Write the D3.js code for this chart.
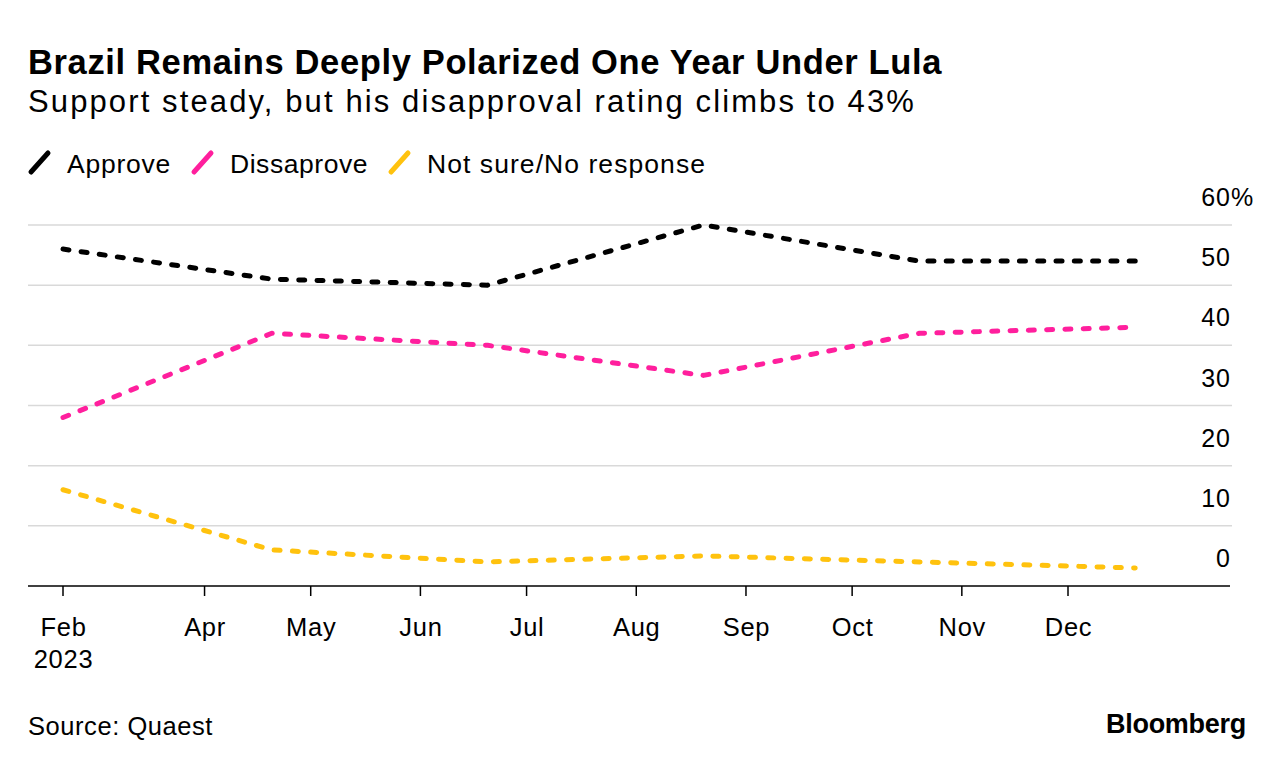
<!DOCTYPE html>
<html>
<head>
<meta charset="utf-8">
<script src="https://cdn.jsdelivr.net/npm/d3@7"></script>
<style>
  html, body { margin: 0; padding: 0; background: #fff; }
  svg { display: block; }
  text { font-family: "Liberation Sans", Arial, sans-serif; fill: #000; }
</style>
</head>
<body>
<svg id="chart" width="1285" height="768"></svg>
<script>
// ---- Data ----
const dates = ["2023-02-20", "2023-04-20", "2023-06-20", "2023-08-20", "2023-10-20", "2023-12-20"];
const approve = [56, 51, 50, 60, 54, 54];
const disapprove = [28, 42, 40, 35, 42, 43];
const notSure = [16, 6, 4, 5, 4, 3];
const seriesNames = ["Approve", "Dissaprove", "Not sure/No response"];
const seriesColors = ["#000000", "#ff1f9d", "#ffc20e"];
const xTickDates = ["2023-02-20", "2023-04-01", "2023-05-01", "2023-06-01", "2023-07-01", "2023-08-01", "2023-09-01", "2023-10-01", "2023-11-01", "2023-12-01"];
const xTickLabels = ["Feb", "Apr", "May", "Jun", "Jul", "Aug", "Sep", "Oct", "Nov", "Dec"];
const yTicks = [0, 10, 20, 30, 40, 50, 60];

const title = "Brazil Remains Deeply Polarized One Year Under Lula";
const subtitle = "Support steady, but his disapproval rating climbs to 43%";
const source = "Source: Quaest";

const parse = d3.timeParse("%Y-%m-%d");
const svg = d3.select("#chart");

// adjust letter-spacing so the text spans the target width
function fitLS(sel, target) {
  sel.attr("letter-spacing", 0);
  const w = sel.node().getComputedTextLength();
  const n = sel.text().length;
  sel.attr("letter-spacing", ((target - w) / n).toFixed(3));
}

// ---- Header ----
const t = svg.append("text").attr("x", 28).attr("y", 74).attr("font-size", 34.5).attr("font-weight", "bold").text(title);
fitLS(t, 914);
const st = svg.append("text").attr("x", 28).attr("y", 112).attr("font-size", 31).text(subtitle);
fitLS(st, 888);

// ---- Scales ----
const x = d3.scaleTime().domain([parse("2023-02-20"), parse("2023-12-01")]).range([63, 1068]);
const y = d3.scaleLinear().domain([0, 60]).range([586, 225]);
const left = 28, right = 1232;

// ---- Gridlines ----
svg.append("g").selectAll("line").data(yTicks.filter(v => v > 0)).join("line")
  .attr("x1", left).attr("x2", right)
  .attr("y1", d => y(d)).attr("y2", d => y(d))
  .attr("stroke", "#d9d9d9").attr("stroke-width", 1.5);

// ---- Y labels ----
const yLab = svg.append("g");
yTicks.forEach(v => {
  const txt = yLab.append("text").attr("font-size", 25).attr("letter-spacing", 1).attr("y", y(v) - 19);
  if (v === 60) {
    txt.text("60").attr("x", 0);
    const w60 = txt.node().getComputedTextLength();
    txt.text("60%").attr("x", 1231 - w60);
  } else {
    txt.text(v).attr("x", 1231).attr("text-anchor", "end");
  }
});

// ---- X axis ----
svg.append("line").attr("x1", left).attr("x2", 1230).attr("y1", y(0)).attr("y2", y(0))
  .attr("stroke", "#000").attr("stroke-width", 1.5);
const tickG = svg.append("g");
xTickDates.forEach((d, i) => {
  const xx = x(parse(d));
  tickG.append("line").attr("x1", xx).attr("x2", xx).attr("y1", y(0)).attr("y2", y(0) + 10)
    .attr("stroke", "#000").attr("stroke-width", 1.5);
  tickG.append("text").attr("x", xx + 0.5).attr("y", 636).attr("text-anchor", "middle")
    .attr("font-size", 25.5).attr("letter-spacing", 0.7).text(xTickLabels[i]);
});
tickG.append("text").attr("x", x(parse(xTickDates[0])) + 0.5).attr("y", 668).attr("text-anchor", "middle")
  .attr("font-size", 25.5).attr("letter-spacing", 0.7).text("2023");

// ---- Lines ----
const allSeries = [approve, disapprove, notSure];
const line = d3.line().x((d, i) => x(parse(dates[i]))).y(d => y(d));
allSeries.forEach((vals, k) => {
  svg.append("path").datum(vals).attr("d", line)
    .attr("fill", "none").attr("stroke", seriesColors[k]).attr("stroke-width", 5)
    .attr("stroke-dasharray", "6,12.3").attr("stroke-linecap", "round").attr("stroke-linejoin", "round");
});

// ---- Legend ----
const legendX = [30, 193, 390];
const legendW = [104, 138, 279];
seriesNames.forEach((n, k) => {
  svg.append("line").attr("x1", legendX[k] + 1).attr("y1", 172).attr("x2", legendX[k] + 18).attr("y2", 153)
    .attr("stroke", seriesColors[k]).attr("stroke-width", 5).attr("stroke-linecap", "round");
  const lt = svg.append("text").attr("x", legendX[k] + 37).attr("y", 173).attr("font-size", 26.5).text(n);
  fitLS(lt, legendW[k]);
});

// ---- Footer ----
const src = svg.append("text").attr("x", 28).attr("y", 735).attr("font-size", 25.5).text(source);
fitLS(src, 185);
const bb = svg.append("text").attr("x", 1106).attr("y", 733)
  .attr("font-size", 27).attr("font-weight", "bold").text("Bloomberg");
fitLS(bb, 140);
</script>
</body>
</html>
